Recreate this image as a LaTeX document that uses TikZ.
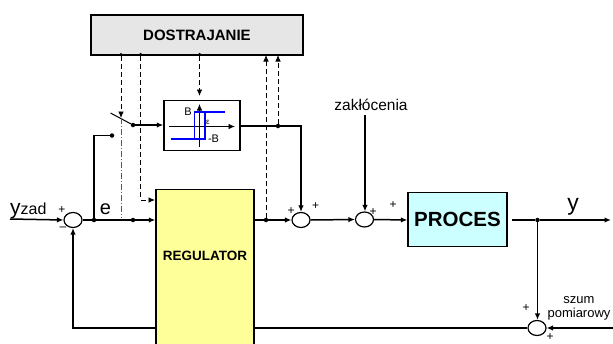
\documentclass[tikz,border=0pt]{standalone}
\usepackage{fontspec}
\setmainfont{Liberation Sans}
\usetikzlibrary{shapes.geometric,arrows.meta,calc}
\definecolor{szary}{HTML}{E6E6E6}
\definecolor{zolty}{HTML}{FFFF99}
\definecolor{blekit}{HTML}{CCFFFF}
\tikzset{
    >={Latex[length=6.5pt,width=5.5pt]},
    blok/.style={draw,line width=1.4pt,inner sep=0pt},
    suma/.style={draw,ellipse,line width=1.2pt,fill=white,minimum width=18pt,minimum height=15pt,inner sep=0pt},
    kropka/.style={circle,fill=black,inner sep=0pt,minimum size=4.5pt},
    linia/.style={line width=1.5pt},
    przerywana/.style={line width=0.9pt,dash pattern=on 5pt off 3pt},
    znak/.style={font=\fontsize{12}{12}\selectfont,inner sep=0pt}
}
\begin{document}
\begin{tikzpicture}[x=1pt,y=-1pt]
    \useasboundingbox (0,0) rectangle (613,343);
    % bloki
    \node[blok,fill=szary,minimum width=212pt,minimum height=40pt,font=\fontsize{15}{16}\bfseries] (dostrajanie) at (197,35) {DOSTRAJANIE};
    \node[blok,fill=zolty,minimum width=98pt,minimum height=157pt] (regulator) at (205,268) {};
    \node[font=\fontsize{13.5}{14}\bfseries,inner sep=0pt] (regulatortxt) at (205,256) {REGULATOR};
    \node[blok,fill=blekit,minimum width=99pt,minimum height=54pt,font=\fontsize{20.5}{22}\bfseries] (proces) at (457.5,219.5) {PROCES};
    \node[blok,minimum width=76pt,minimum height=50pt] (hist) at (202,125.5) {};
    % sumatory
    \node[suma] (sum1) at (73,220) {};
    \node[suma] (sum2) at (301,220) {};
    \node[suma] (sum3) at (364.5,219.5) {};
    \node[suma] (sum4) at (537,328) {};
    % punkty
    \node[kropka] (d1) at (94,220) {};
    \node[kropka] (d2) at (133,220) {};
    \node[kropka] (d3) at (266,220) {};
    \node[kropka] (d4) at (278,126) {};
    \node[kropka] (d5) at (537.5,220) {};
    \node[kropka] (s1) at (133,125) {};
    \node[kropka] (s2) at (112,135.5) {};
    \node[kropka,minimum size=3.5pt] (g1) at (121,54.5) {};
    \node[kropka,minimum size=3.5pt] (g2) at (140.5,54.5) {};
    \node[kropka,minimum size=3.5pt] (g3) at (199.5,54.5) {};
    \coordinate (wej) at (10,219);
    \coordinate (wyj) at (611,220);
    \coordinate (proc) at (512,220);
    \coordinate (zakl) at (365,115);
    \coordinate (szum) at (613,328);
    \coordinate (noz) at (110.5,113);
    \coordinate (g4) at (266,55);
    \coordinate (g5) at (278,55);
    \coordinate (krzyz) at (121,118);
    \coordinate (koniec) at (121,218);
    \coordinate (nad) at (199.5,96);
    \coordinate (reg2) at (155,200);
    % tor glowny
    \draw[linia,->] (wej) -- (sum1.west);
    \draw[linia] (sum1.east) -- (d1);
    \draw[linia] (d1) -- (d2);
    \draw[linia,->] (d2) -- (d2 -| regulator.west);
    \draw[linia] (d3 -| regulator.east) -- (d3);
    \draw[linia,->] (d3) -- (sum2.west);
    \draw[linia,->] (sum2.east) -- (sum3.west);
    \draw[linia,->] (sum3.east) -- (proc -| proces.west);
    \draw[linia] (proc) -- (d5);
    \draw[linia,->] (d5) -- (wyj);
    % sprzezenie
    \draw[linia,->] (d5) -- (sum4.north -| d5);
    \draw[linia] (sum4.west) -- (sum4.west -| regulator.east);
    \draw[linia,->] (sum4.west -| regulator.west) -| (sum1.south);
    \draw[linia,->] (szum) -- (sum4.east);
    \draw[linia,->] (zakl) -- (zakl |- sum3.north);
    % przelacznik
    \draw[line width=1pt] (noz) -- (s1);
    \draw[linia,->] (s1) -- (s1 -| hist.west);
    \draw[linia] (d1) |- (s2);
    \draw[linia] (hist.east |- d4) -- (d4);
    \draw[linia,->] (d4) -| (sum2.north);
    % sygnaly dostrajania
    \draw[przerywana,->] (g1) -- (krzyz);
    \draw[line width=0.6pt,dash pattern=on 6pt off 2pt on 1pt off 2pt,gray!70!black] (krzyz) -- (koniec);
    \draw[przerywana,->] (g2) |- (reg2);
    \draw[przerywana,->] (g3) -- (nad);
    \draw[przerywana,->] (d3) -- (g4);
    \draw[przerywana,->] (d4) -- (g5);
    % histereza
    \coordinate (ox1) at (169,126.5);
    \coordinate (ox2) at (235,126.5);
    \coordinate (oy1) at (199.5,147);
    \coordinate (oy2) at (199.5,104);
    \draw[line width=0.8pt,->] (ox1) -- (ox2);
    \draw[line width=0.8pt,->] (oy1) -- (oy2);
    \draw[blue,line width=1.8pt] (170.7,139.3) -- (204.7,139.3) -- (204.7,112.3) -- (194.5,112.3) -- (194.5,139.3);
    \draw[blue,line width=1.8pt] (194.5,112.3) -- (224.7,112.3);
    \node[znak,font=\fontsize{11}{11}\selectfont] (lb) at (188,111.5) {B};
    \node[znak,font=\fontsize{8}{8}\selectfont] (le) at (208,122.5) {ε};
    \node[znak,font=\fontsize{11}{11}\selectfont] (lmb) at (213.5,139) {-B};
    % opisy
    \node[inner sep=0pt,anchor=base west] (yzad) at (10,214.5) {\fontsize{21}{21}\selectfont y\fontsize{16}{16}\selectfont zad};
    \node[inner sep=0pt,font=\fontsize{20}{20}\selectfont] (le2) at (105.5,209) {e};
    \node[inner sep=0pt,font=\fontsize{23}{23}\selectfont] (ly) at (573,207) {y};
    \node[inner sep=0pt,font=\fontsize{15.5}{16}\selectfont] (lz) at (371,105) {zakłócenia};
    \node[inner sep=0pt,font=\fontsize{13}{13}\selectfont] (ls1) at (579,300) {szum};
    \node[inner sep=0pt,font=\fontsize{13}{13}\selectfont] (ls2) at (579,314) {pomiarowy};
    % znaki
    \node[znak] (p1) at (62,210) {+};
    \node[znak] (m1) at (63,229) {--};
    \node[znak] (p2) at (291,211) {+};
    \node[znak] (p3) at (315.7,206) {+};
    \node[znak] (p4) at (373,212) {+};
    \node[znak] (p5) at (393,205) {+};
    \node[znak] (p6) at (526,308) {+};
    \node[znak] (p7) at (550,337) {+};
\end{tikzpicture}
\end{document}
